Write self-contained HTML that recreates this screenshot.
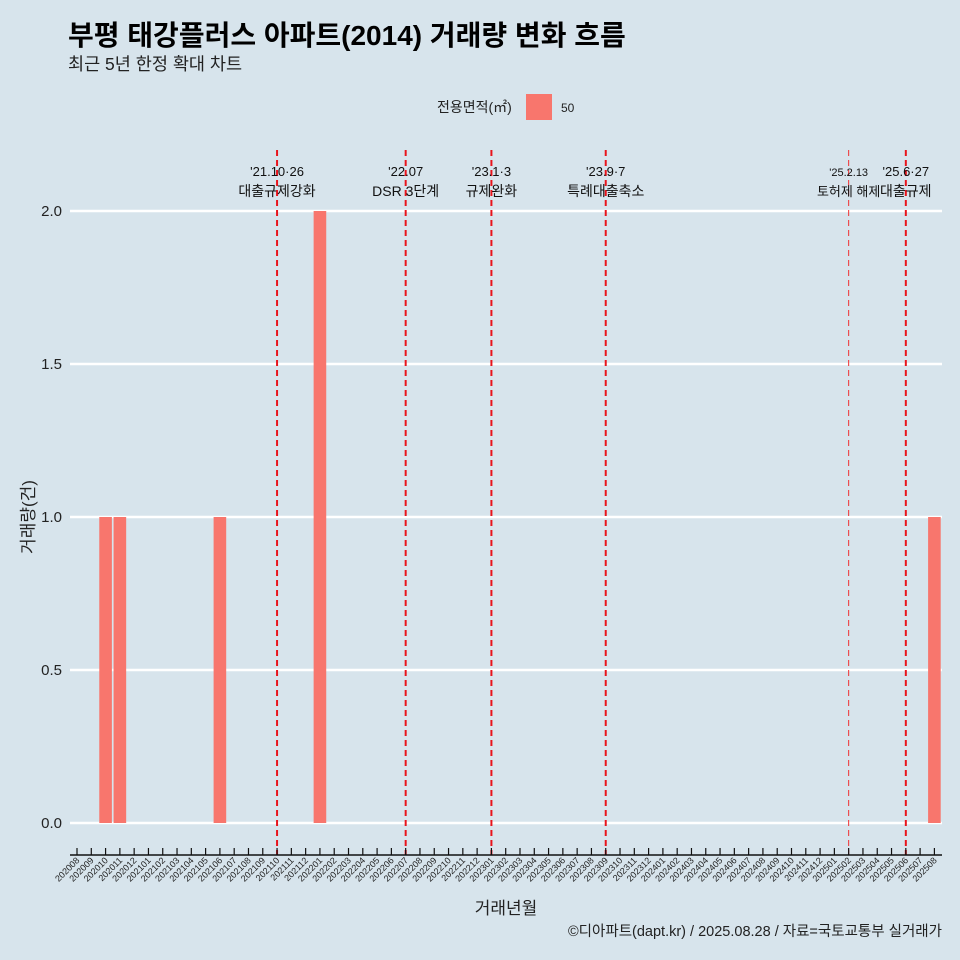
<!DOCTYPE html>
<html><head><meta charset="utf-8"><style>
body{margin:0;background:#d7e4ec;}
svg{display:block;font-family:"Liberation Sans","Noto Sans CJK KR",sans-serif;}
</style></head><body>
<svg id="chart" width="960" height="960" xmlns="http://www.w3.org/2000/svg">
<rect width="960" height="960" fill="#d7e4ec"/>
<text x="68" y="45" font-size="28" font-weight="bold" fill="#000">부평 태강플러스 아파트(2014) 거래량 변화 흐름</text>
<text x="68" y="70" font-size="17.5" fill="#222">최근 5년 한정 확대 차트</text>
<g>
<text x="437" y="112" font-size="14" fill="#222">전용면적(㎡)</text>
<rect x="526" y="94" width="26" height="26" fill="#f8766d"/>
<text x="561" y="112" font-size="12" fill="#222">50</text>
</g>
<g id="grid"></g><g id="bars"></g><g id="events"></g><g id="axes"></g>
<text transform="translate(34,517) rotate(-90)" text-anchor="middle" font-size="17" fill="#222">거래량(건)</text>
<text x="506" y="914" text-anchor="middle" font-size="17" fill="#222">거래년월</text>
<text x="942" y="936" text-anchor="end" font-size="14.5" fill="#222">©디아파트(dapt.kr) / 2025.08.28 / 자료=국토교통부 실거래가</text>
</svg>
<script>
const months=["202008","202009","202010","202011","202012","202101","202102","202103","202104","202105","202106","202107","202108","202109","202110","202111","202112","202201","202202","202203","202204","202205","202206","202207","202208","202209","202210","202211","202212","202301","202302","202303","202304","202305","202306","202307","202308","202309","202310","202311","202312","202401","202402","202403","202404","202405","202406","202407","202408","202409","202410","202411","202412","202501","202502","202503","202504","202505","202506","202507","202508"];
const counts=[0,0,1,1,0,0,0,0,0,0,1,0,0,0,0,0,0,2,0,0,0,0,0,0,0,0,0,0,0,0,0,0,0,0,0,0,0,0,0,0,0,0,0,0,0,0,0,0,0,0,0,0,0,0,0,0,0,0,0,0,1];
const yTicks=[0,0.5,1,1.5,2];
const yTickLabels=["0.0","0.5","1.0","1.5","2.0"];
const eventMonths=["202110","202207","202301","202309","202502","202506"];
const eventDates=["'21.10·26","'22.07","'23.1·3","'23.9·7","'25.2.13","'25.6·27"];
const eventLabels=["대출규제강화","DSR 3단계","규제완화","특례대출축소","토허제 해제","대출규제"];
const NS="http://www.w3.org/2000/svg";
const x=i=>77+i*14.29;
const y=v=>823-v*306;
function mk(tag,attrs,parent,text){const e=document.createElementNS(NS,tag);for(const k in attrs)e.setAttribute(k,attrs[k]);if(text!==undefined)e.textContent=text;document.getElementById(parent).appendChild(e);return e;}
yTicks.forEach((t,i)=>{
 const l=mk('line',{x1:70,x2:942,y1:y(t),y2:y(t),stroke:'#fff','stroke-width':2.5},'grid');
 
 
 const tx=mk('text',{x:62,y:y(t)+5,'text-anchor':'end','font-size':15,fill:'#222'},'axes',yTickLabels[i]);
 
 
});
counts.forEach((c,i)=>{
 if(c<=0)return;
 const r=mk('rect',{x:x(i)-6.3,y:y(c),width:12.6,height:y(0)-y(c),fill:'#f8766d'},'bars');
 
 
});
eventMonths.forEach((m,k)=>{
 const i=months.indexOf(m);const thin=m==="202502";
 const l=mk('line',{x1:x(i),x2:x(i),y1:150,y2:855,stroke:thin?'#f03030':'#e8141c','stroke-width':thin?1:2,'stroke-dasharray':'6,4'},'events');
 
 
 const fs=thin?11:13;
 const d=mk('text',{x:x(i),y:176,'text-anchor':'middle','font-size':fs,fill:'#111'},'events',eventDates[k]);
 
 
 const t=mk('text',{x:x(i),y:196,'text-anchor':'middle','font-size':thin?13:14,fill:'#111'},'events',eventLabels[k]);
 
 
});
const ax=mk('line',{x1:70,x2:942,y1:855,y2:855,stroke:'#111','stroke-width':1.5},'axes');


months.forEach((m,i)=>{
 const tk=mk('line',{x1:x(i),x2:x(i),y1:848,y2:855,stroke:'#111','stroke-width':1.2},'axes');
 
 
 const t=mk('text',{transform:`translate(${x(i)+3},861) rotate(-45)`,'text-anchor':'end','font-size':9,fill:'#222'},'axes',m);
 
 
});
</script>
</body></html>
